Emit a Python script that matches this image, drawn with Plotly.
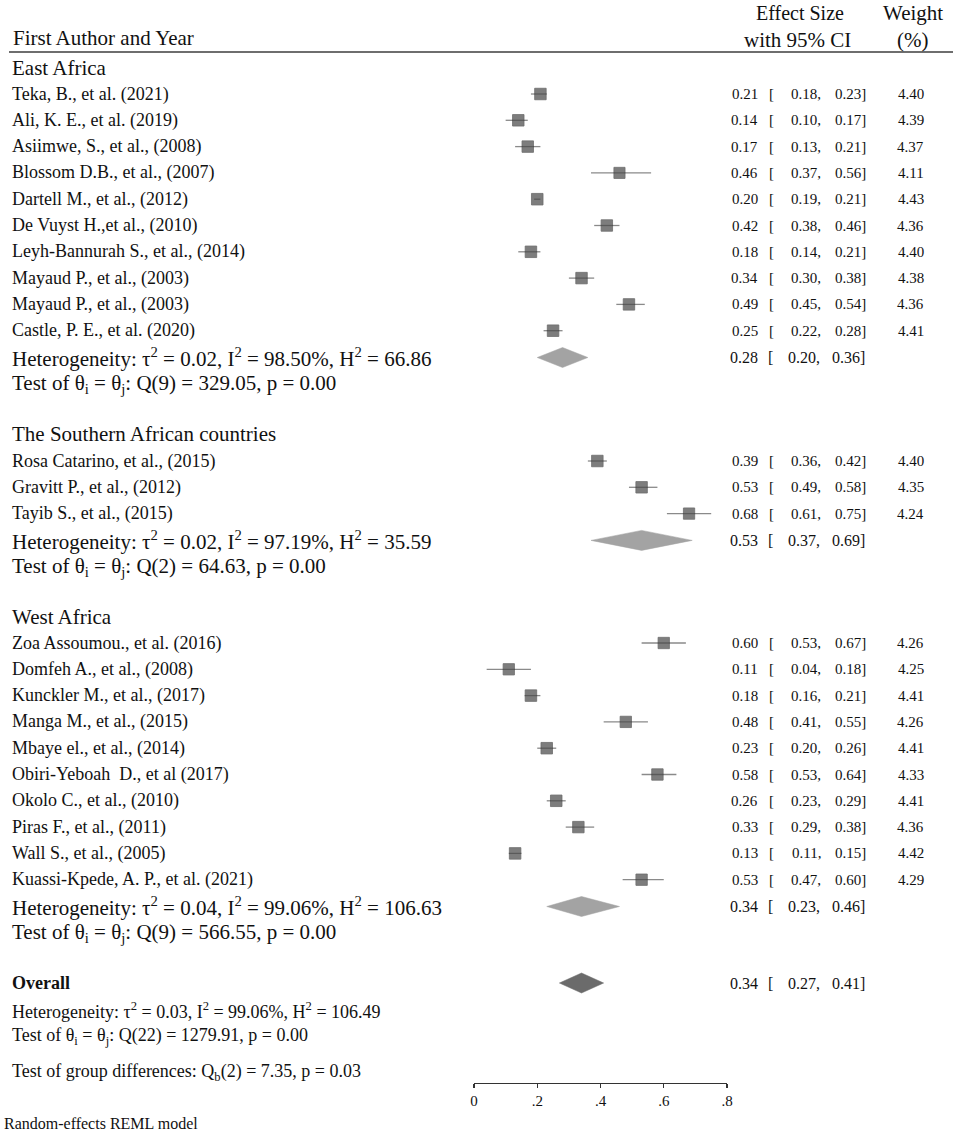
import plotly.graph_objects as go

W, H = 957, 1134
FONT = "Liberation Serif"

# ---------------- data ----------------
groups = ["East Africa", "The Southern African countries", "West Africa"]

east_names = ["Teka, B., et al. (2021)", "Ali, K. E., et al. (2019)", "Asiimwe, S., et al., (2008)",
              "Blossom D.B., et al., (2007)", "Dartell M., et al., (2012)", "De Vuyst H.,et al., (2010)",
              "Leyh-Bannurah S., et al., (2014)", "Mayaud P., et al., (2003)", "Mayaud P., et al., (2003)",
              "Castle, P. E., et al. (2020)"]
east_es = [0.21, 0.14, 0.17, 0.46, 0.20, 0.42, 0.18, 0.34, 0.49, 0.25]
east_lo = [0.18, 0.10, 0.13, 0.37, 0.19, 0.38, 0.14, 0.30, 0.45, 0.22]
east_hi = [0.23, 0.17, 0.21, 0.56, 0.21, 0.46, 0.21, 0.38, 0.54, 0.28]
east_w = [4.40, 4.39, 4.37, 4.11, 4.43, 4.36, 4.40, 4.38, 4.36, 4.41]

south_names = ["Rosa Catarino, et al., (2015)", "Gravitt P., et al., (2012)", "Tayib S., et al., (2015)"]
south_es = [0.39, 0.53, 0.68]
south_lo = [0.36, 0.49, 0.61]
south_hi = [0.42, 0.58, 0.75]
south_w = [4.40, 4.35, 4.24]

west_names = ["Zoa Assoumou., et al. (2016)", "Domfeh A., et al., (2008)", "Kunckler M., et al., (2017)",
              "Manga M., et al., (2015)", "Mbaye el., et al., (2014)", "Obiri-Yeboah  D., et al (2017)",
              "Okolo C., et al., (2010)", "Piras F., et al., (2011)", "Wall S., et al., (2005)",
              "Kuassi-Kpede, A. P., et al. (2021)"]
west_es = [0.60, 0.11, 0.18, 0.48, 0.23, 0.58, 0.26, 0.33, 0.13, 0.53]
west_lo = [0.53, 0.04, 0.16, 0.41, 0.20, 0.53, 0.23, 0.29, 0.11, 0.47]
west_hi = [0.67, 0.18, 0.21, 0.55, 0.26, 0.64, 0.29, 0.38, 0.15, 0.60]
west_w = [4.26, 4.25, 4.41, 4.26, 4.41, 4.33, 4.41, 4.36, 4.42, 4.29]

sub_es = [0.28, 0.53, 0.34]
sub_lo = [0.20, 0.37, 0.23]
sub_hi = [0.36, 0.69, 0.46]
sub_het = [("0.02", "98.50%", "66.86"), ("0.02", "97.19%", "35.59"), ("0.04", "99.06%", "106.63")]
sub_q = [("9", "329.05", "0.00"), ("2", "64.63", "0.00"), ("9", "566.55", "0.00")]

overall_es, overall_lo, overall_hi = 0.34, 0.27, 0.41
overall_het = ("0.03", "99.06%", "106.49")
overall_q = ("22", "1279.91", "0.00")
group_diff = ("2", "7.35", "0.03")

tick_vals = [0, 0.2, 0.4, 0.6, 0.8]
tick_text = ["0", ".2", ".4", ".6", ".8"]

study_sets = [
    (east_names, east_es, east_lo, east_hi, east_w),
    (south_names, south_es, south_lo, south_hi, south_w),
    (west_names, west_es, west_lo, west_hi, west_w),
]

# ---------------- layout positions (screen pixels) ----------------
STEP = 26.3
group_head_y = [68, 434, 617]
first_study_y = [94, 461, 643]
overall_y = 983


def px(x):
    return x / W


annotations = []


def add_text(x, y, text, size, anchor="left", bold=False):
    annotations.append(dict(
        x=px(x), y=y, xref="paper", yref="y", text=("<b>%s</b>" % text) if bold else text,
        showarrow=False, xanchor=anchor, yanchor="middle",
        font=dict(family=FONT, size=size, color="#111111")))


# headers
add_text(11, 38, "First Author and Year", 21)
add_text(800, 13, "Effect Size", 20, "center")
add_text(797, 40, "with 95% CI", 21, "center")
add_text(913, 13, "Weight", 21, "center")
add_text(912, 40, "(%)", 21, "center")

fig = go.Figure()

ci_x, ci_y = [], []
mk_x, mk_y, mk_s = [], [], []

for g, (names, es, lo, hi, w) in enumerate(study_sets):
    add_text(10, group_head_y[g], groups[g], 21)
    for i in range(len(names)):
        y = first_study_y[g] + STEP * i
        add_text(10, y, names[i], 18)
        add_text(760, y, "%.2f" % es[i], 15, "right")
        add_text(767, y, "[", 15, "left")
        add_text(823, y, "%.2f," % lo[i], 15, "right")
        add_text(868, y, "%.2f]" % hi[i], 15, "right")
        add_text(926, y, "%.2f" % w[i], 15, "right")
        ci_x += [lo[i], hi[i], None]
        ci_y += [y, y, None]
        mk_x.append(es[i])
        mk_y.append(y)
        mk_s.append(11.5 * (w[i] / 4.40) ** 0.5)
    yh = first_study_y[g] + STEP * len(names) + 0.5
    t2, i2, h2 = sub_het[g]
    add_text(10, yh, "Heterogeneity: τ<sup>2</sup> = %s, I<sup>2</sup> = %s, H<sup>2</sup> = %s" % (t2, i2, h2), 21)
    qd, qv, pv = sub_q[g]
    add_text(10, yh + 26.5, "Test of θ<sub>i</sub> = θ<sub>j</sub>: Q(%s) = %s, p = %s" % (qd, qv, pv), 21)
    add_text(760, yh, "%.2f" % sub_es[g], 16, "right")
    add_text(766, yh, "[", 16, "left")
    add_text(822, yh, "%.2f," % sub_lo[g], 16, "right")
    add_text(867, yh, "%.2f]" % sub_hi[g], 16, "right")
    fig.add_trace(go.Scatter(
        x=[sub_lo[g], sub_es[g], sub_hi[g], sub_es[g], sub_lo[g]],
        y=[yh, yh - 10, yh, yh + 10, yh],
        mode="lines", fill="toself", fillcolor="#a3a3a3",
        line=dict(color="#a3a3a3", width=0.5), hoverinfo="skip", showlegend=False))

# overall
add_text(10, overall_y, "Overall", 18, bold=True)
add_text(10, overall_y + 27, "Heterogeneity: τ<sup>2</sup> = %s, I<sup>2</sup> = %s, H<sup>2</sup> = %s" % overall_het, 18)
add_text(10, overall_y + 53, "Test of θ<sub>i</sub> = θ<sub>j</sub>: Q(%s) = %s, p = %s" % overall_q, 18)
add_text(10, overall_y + 89, "Test of group differences: Q<sub>b</sub>(%s) = %s, p = %s" % group_diff, 18)
add_text(760, overall_y, "%.2f" % overall_es, 16, "right")
add_text(766, overall_y, "[", 16, "left")
add_text(822, overall_y, "%.2f," % overall_lo, 16, "right")
add_text(867, overall_y, "%.2f]" % overall_hi, 16, "right")
add_text(2, 1123, "Random-effects REML model", 16)

fig.add_trace(go.Scatter(
    x=[overall_lo, overall_es, overall_hi, overall_es, overall_lo],
    y=[overall_y, overall_y - 10, overall_y, overall_y + 10, overall_y],
    mode="lines", fill="toself", fillcolor="#6b6b6b",
    line=dict(color="#6b6b6b", width=0.5), hoverinfo="skip", showlegend=False))

fig.add_trace(go.Scatter(x=ci_x, y=ci_y, mode="lines",
                         line=dict(color="#8a8a8a", width=1.3), hoverinfo="skip", showlegend=False))
fig.add_trace(go.Scatter(x=mk_x, y=mk_y, mode="markers",
                         marker=dict(symbol="square", size=mk_s, color="#474747",
                                     line=dict(color="#303030", width=0.8)),
                         hoverinfo="skip", showlegend=False))

shapes = [dict(type="line", xref="paper", yref="y", x0=px(9), x1=px(953), y0=52, y1=52,
               line=dict(color="#6e6e6e", width=2.2))]

fig.update_layout(
    width=W, height=H, margin=dict(l=0, r=0, t=0, b=0),
    paper_bgcolor="white", plot_bgcolor="white",
    annotations=annotations, shapes=shapes, showlegend=False,
    xaxis=dict(domain=[px(474), px(727)], range=[0, 0.8], anchor="free",
               position=(H - 1083) / H, showgrid=False, zeroline=False,
               showline=True, linecolor="#333333", linewidth=1.2,
               ticks="outside", ticklen=4, tickwidth=1.2, tickcolor="#333333",
               tickvals=tick_vals, ticktext=tick_text,
               tickfont=dict(family=FONT, size=15, color="#111111"), automargin=False,
               fixedrange=True),
    yaxis=dict(domain=[0, 1], range=[H, 0], visible=False, automargin=False, fixedrange=True),
)

fig.write_html("out.html",
               config={"displayModeBar": False, "staticPlot": True},
               post_script="document.body.style.margin='0';document.body.style.overflow='hidden';")
